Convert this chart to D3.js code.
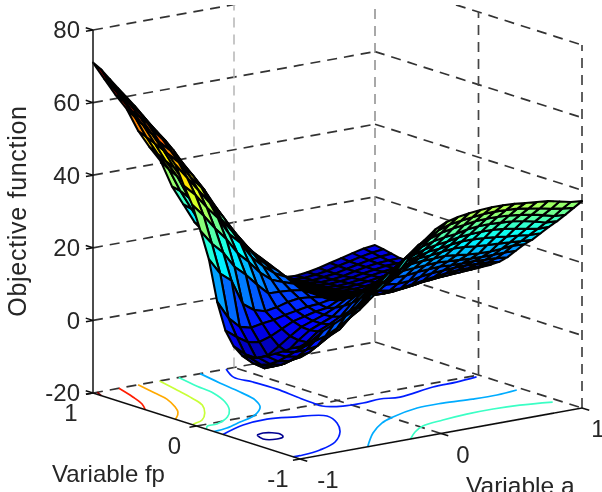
<!DOCTYPE html>
<html>
<head>
<meta charset="utf-8">
<script src="https://cdn.jsdelivr.net/npm/d3@7"></script>
<style>
  html, body { margin: 0; padding: 0; background: #fff; }
  svg { display: block; }
  text { font-family: "Liberation Sans", Arial, sans-serif; fill: #262626; }
</style>
</head>
<body>
<svg id="chart" width="602" height="492"></svg>
<script>
// grid of the surface
const aValues = [-1, -0.92, -0.84, -0.76, -0.68, -0.6, -0.52, -0.44, -0.36, -0.28, -0.2, -0.12, -0.04, 0.04, 0.12, 0.2, 0.28, 0.36, 0.44, 0.52, 0.6, 0.68, 0.76, 0.84, 0.92, 1];
const fpValues = [-1, -0.92, -0.84, -0.76, -0.68, -0.6, -0.52, -0.44, -0.36, -0.28, -0.2, -0.12, -0.04, 0.04, 0.12, 0.2, 0.28, 0.36, 0.44, 0.52, 0.6, 0.68, 0.76, 0.84, 0.92, 1];

// objective function, one row per a value, running along fp
const zByA = [
  [11, 9.8, 8.2, 6.8, 5.4, 4.3, 3.5, 3.4, 5.2, 8.8, 16, 27, 34, 40.5, 45, 50, 52.5, 55, 58, 60.8, 62.8, 64.5, 66.2, 68, 69.8, 71],
  [12, 9.5, 7.5, 5.5, 3.5, 2, 1, 0.7, 2.5, 6.5, 11, 22.5, 30, 37, 42, 46, 49.5, 52, 54.5, 56.5, 58.5, 60.3, 61.5, 63, 64.5, 66],
  [14, 10.6, 7.5, 5, 3, 1.2, 0, -1.2, 0.8, 4.5, 8, 20, 27, 33, 38, 42, 45, 47.8, 50.8, 52.8, 54.5, 56, 57, 58, 60, 61],
  [15.5, 11.5, 8, 5.5, 3.5, 2, 0.2, -0.9, 1, 4, 7.2, 13, 22.5, 29.5, 34.5, 38, 41.5, 44, 46, 48, 49.7, 51, 52, 53.5, 55, 56.5],
  [17, 13, 10, 7.5, 5.5, 3.8, 2.6, 2.2, 3, 5, 7.8, 10.8, 19.8, 25, 29.5, 33, 36.5, 39.5, 41.5, 43.5, 45, 46, 47, 48, 49, 50],
  [18.5, 15, 11.5, 9.5, 7.5, 6, 5, 4.8, 5.2, 6.5, 8.2, 9.9, 16.5, 22, 26.5, 29, 32, 34.3, 36, 38, 39.2, 40.6, 41.5, 42.5, 43.8, 45],
  [20, 17, 14.5, 11.7, 9.6, 8.2, 7.4, 7, 7.2, 8, 9, 10.4, 13.5, 18.5, 22, 25, 27.3, 29.3, 31.5, 33, 34.2, 35.5, 36.5, 37.8, 39, 40.5],
  [22.5, 20.5, 17, 14, 11.5, 9.8, 8.8, 8.3, 8.3, 8.8, 9.6, 11.3, 13.4, 16, 19, 21.2, 23.2, 25, 26.5, 27.7, 28.6, 29.6, 30.5, 31.5, 32.5, 33],
  [25, 23, 20.7, 17.3, 14.6, 12.4, 10.4, 9.6, 9.4, 9.6, 10.2, 11.8, 13.2, 14.8, 16.5, 18.2, 19.6, 20.8, 22, 23, 24, 25, 26, 26.5, 27, 27.5],
  [27.5, 25, 22.5, 20.4, 17.8, 15.5, 13.5, 12, 10.8, 10, 10.4, 11.5, 12.7, 13.8, 15, 16, 17, 18, 18.6, 19.1, 19.5, 19.8, 20, 20.5, 21.3, 22],
  [31, 28.6, 25.5, 23.2, 20.5, 18.2, 16, 14, 12.7, 11.5, 11, 11, 11.2, 11.7, 12.4, 13, 13.7, 14.2, 14.7, 15, 15.3, 15.6, 16, 16.6, 17.5, 18.2],
  [34, 31, 28.3, 25.5, 22.5, 20.2, 17.8, 15.5, 13.6, 12, 10.8, 10.1, 9.6, 9.4, 9.5, 9.5, 9.7, 9.9, 10, 10, 10, 10, 10, 10, 10.2, 11],
  [36.5, 33, 30.8, 27.5, 24.5, 22, 19.5, 17, 15, 13, 11, 9.9, 9.2, 8.9, 8.5, 8.3, 8.2, 8.1, 8, 8, 8, 8.1, 8.2, 8.4, 9, 10],
  [38, 35, 32, 29, 26, 23.4, 20.6, 18, 15.7, 13.5, 11.4, 9.6, 8.7, 8, 7.6, 7.3, 7, 6.9, 6.8, 6.8, 6.8, 6.9, 7, 7.3, 7.9, 8.6],
  [38.8, 36, 33, 29.9, 27, 24.2, 21.7, 19.2, 16.6, 14.2, 12, 9.7, 8.3, 7.4, 6.9, 6.5, 6.2, 6, 5.9, 5.8, 5.8, 5.9, 6, 6.2, 6.7, 7.2],
  [39.3, 36.5, 33.6, 30.5, 27.6, 25, 22.6, 20.2, 17.6, 15, 12.4, 10, 8.4, 7.2, 6.5, 5.9, 5.5, 5.2, 5, 4.9, 4.9, 4.9, 5, 5.2, 5.5, 5.8],
  [39.6, 36.9, 34, 30.8, 28, 25.3, 22.8, 20.5, 17.8, 15, 12, 9.4, 7.8, 6.7, 5.9, 5.3, 4.8, 4.5, 4.3, 4.1, 4, 4, 4, 4.1, 4.2, 4.4],
  [39.8, 37.2, 34.5, 31.5, 28.6, 25.8, 23.2, 20.6, 18, 15.4, 12.2, 9.5, 7.8, 6.6, 5.7, 5, 4.4, 4, 3.7, 3.4, 3.2, 3, 2.9, 2.7, 2.5, 2.4],
  [39.8, 37.3, 34.6, 31.8, 28.9, 26.2, 23.5, 20.8, 18.2, 15.6, 12.8, 10, 8.2, 6.9, 5.9, 5.1, 4.5, 4, 3.6, 3.3, 3, 2.8, 2.6, 2.4, 2.3, 2.2],
  [39.6, 37.2, 34.6, 31.9, 29, 26.2, 23.4, 20.4, 18, 15.8, 13.2, 10.5, 8.6, 7.2, 6.2, 5.4, 4.8, 4.2, 3.8, 3.5, 3.2, 3, 2.8, 2.7, 2.6, 2.6],
  [39.3, 37, 34.4, 31.7, 29, 26, 23, 20, 17.8, 15.6, 13.4, 11, 9.2, 7.7, 6.6, 5.8, 5.1, 4.6, 4.2, 3.9, 3.6, 3.4, 3.2, 3.1, 3.1, 3.2],
  [39, 36.5, 34, 31.5, 28.7, 25.7, 22.8, 19.8, 17.6, 15.6, 13.6, 11.4, 9.4, 8, 7, 6.2, 5.6, 5.1, 4.7, 4.4, 4.2, 4, 3.9, 3.8, 3.9, 4],
  [38.7, 36, 33.5, 31, 28.2, 25.3, 22.6, 19.7, 17.5, 15.6, 13.7, 11.6, 9.6, 8.3, 7.4, 6.7, 6.1, 5.6, 5.2, 4.9, 4.7, 4.5, 4.5, 4.5, 4.6, 4.8],
  [38, 35.3, 32.8, 30.3, 27.6, 25, 22.4, 19.9, 17.5, 15.4, 13.6, 11.7, 9.8, 8.6, 7.8, 7.1, 6.5, 6, 5.6, 5.3, 5.1, 5, 5, 5.1, 5.3, 5.6],
  [37.3, 34.8, 32, 29.5, 27, 24.6, 22.2, 20.2, 17.6, 15.3, 13.4, 11.7, 10, 8.9, 8, 7.3, 6.6, 6.1, 5.7, 5.4, 5.2, 5.1, 5.2, 5.5, 5.9, 6.3],
  [37, 34.4, 31.8, 29.3, 27, 24.5, 22, 20, 17.5, 15, 13, 11.5, 10.2, 9.2, 8.2, 7.4, 6.6, 6, 5.6, 5.3, 5.2, 5.2, 5.3, 5.8, 6.3, 6.7]
];

// contour lines on the floor, [a, fp] pairs
const contourLevels = [70, 60, 50, 40, 30, 20, 10, 10, 0, 20, 30];
const contourLines = [
  [[-0.97, 1], [-1, 0.92]],
  [[-0.816, 1], [-0.876, 0.784], [-0.934, 0.616], [-1, 0.496]],
  [[-0.68, 1], [-0.72, 0.784], [-0.752, 0.624], [-0.828, 0.44], [-0.885, 0.336], [-0.979, 0.224], [-1, 0.208]],
  [[-0.528, 1], [-0.578, 0.76], [-0.623, 0.56], [-0.677, 0.384], [-0.777, 0.224], [-0.89, 0.096], [-0.983, 0.048], [-1, 0.032]],
  [[-0.392, 1], [-0.432, 0.768], [-0.456, 0.58], [-0.53, 0.364], [-0.626, 0.192], [-0.734, 0.064], [-0.879, -0.032], [-0.953, -0.04], [-1, -0.096]],
  [[-0.24, 1], [-0.283, 0.752], [-0.321, 0.504], [-0.366, 0.296], [-0.443, 0.144], [-0.579, 0.008], [-0.746, -0.075], [-0.89, -0.144], [-1, -0.168]],
  [[-0.056, 1], [-0.139, 0.816], [-0.12, 0.653], [-0.112, 0.432], [-0.134, 0.208], [-0.146, 0.037], [-0.148, -0.052], [-0.054, -0.126], [0.08, -0.138], [0.214, -0.12], [0.332, -0.152], [0.624, -0.072], [0.8, -0.06], [0.964, -0.03]],
  [[-1, -0.256], [-0.775, -0.144], [-0.582, -0.112], [-0.436, -0.164], [-0.268, -0.264], [-0.322, -0.434], [-0.436, -0.618], [-0.6, -0.794], [-0.782, -0.896], [-0.93, -0.933], [-1, -0.932]],
  [[-0.854, -0.386], [-0.798, -0.368], [-0.736, -0.448], [-0.765, -0.515], [-0.82, -0.533], [-0.883, -0.484], [-0.854, -0.386]],
  [[-0.52, -1], [-0.301, -0.753], [-0.12, -0.592], [0.016, -0.514], [0.253, -0.424], [0.44, -0.418], [0.632, -0.445], [0.8, -0.451], [0.96, -0.424]],
  [[-0.216, -1], [-0.096, -0.88], [0.024, -0.792], [0.2, -0.746], [0.392, -0.714], [0.584, -0.708], [0.76, -0.726], [0.952, -0.782]]
];

const aTicks = [-1, 0, 1];
const fpTicks = [-1, 0, 1];
const zTicks = [-20, 0, 20, 40, 60, 80];

const svg = d3.select("#chart");

// the 3d box seen from the a=-1, fp=-1 corner: each axis moves the point on screen
const origin = { x: 300, y: 459 };
const xFromA = d3.scaleLinear().domain([-1, 1]).range([0, 282]);
const yFromA = d3.scaleLinear().domain([-1, 1]).range([0, -51]);
const xFromFp = d3.scaleLinear().domain([-1, 1]).range([0, -207]);
const yFromFp = d3.scaleLinear().domain([-1, 1]).range([0, -66]);
const yFromZ = d3.scaleLinear().domain([-20, 80]).range([0, -363]);

const project = (a, fp, z) => [
  origin.x + xFromA(a) + xFromFp(fp),
  origin.y + yFromA(a) + yFromFp(fp) + yFromZ(z)
];

// jet colormap over the range of the surface
const zMin = d3.min(zByA, (r) => d3.min(r));
const zMax = d3.max(zByA, (r) => d3.max(r));
const jet = d3
  .scaleLinear()
  .domain([0, 0.125, 0.375, 0.625, 0.875, 1].map((t) => zMin + t * (zMax - zMin)))
  .range(["#00007f", "#0000ff", "#00ffff", "#ffff00", "#ff0000", "#7f0000"])
  .clamp(true);

const defs = svg.append("defs");
defs
  .append("clipPath")
  .attr("id", "top-clip")
  .append("rect")
  .attr("x", 0)
  .attr("y", 5)
  .attr("width", 602)
  .attr("height", 487);
defs
  .append("filter")
  .attr("id", "soft")
  .append("feGaussianBlur")
  .attr("stdDeviation", 0.55);

const root = svg.append("g").attr("filter", "url(#soft)");
const line = d3.line();

// dashed grid on floor and back walls
const grid = root
  .append("g")
  .attr("clip-path", "url(#top-clip)")
  .attr("fill", "none")
  .attr("stroke-dasharray", "10 7");

const gridLine = (pts, color, width) =>
  grid
    .append("path")
    .attr("d", line(pts))
    .attr("stroke", color)
    .attr("stroke-width", width);

zTicks.forEach((z) => {
  gridLine([project(-1, 1, z), project(1, 1, z)], "#333", 1.7);
  gridLine([project(1, 1, z), project(1, -1, z)], "#333", 1.7);
});
gridLine([project(0, -1, -20), project(0, 1, -20)], "#333", 1.7);
gridLine([project(-1, 0, -20), project(1, 0, -20)], "#333", 1.7);
gridLine([project(0, 1, -20), project(0, 1, 80)], "#b5b5b5", 1.5);
gridLine([project(1, 1, -20), project(1, 1, 80)], "#8c8c8c", 1.5);
gridLine([project(1, 0, -20), project(1, 0, 80)], "#444", 1.7);
gridLine([project(1, -1, -20), project(1, -1, 80)], "#444", 1.7);

// contours
const contourLine = d3.line().curve(d3.curveCatmullRom.alpha(0.5));
root
  .append("g")
  .selectAll("path")
  .data(contourLines)
  .join("path")
  .attr("d", (d) => contourLine(d.map((p) => project(p[0], p[1], -20))))
  .attr("fill", "none")
  .attr("stroke", (d, i) => jet(contourLevels[i]))
  .attr("stroke-width", 1.7);

// surface, far cells first so the near ones cover them
const cells = [];
for (let i = aValues.length - 2; i >= 0; i--) {
  for (let j = fpValues.length - 2; j >= 0; j--) {
    cells.push({
      pts: [
        project(aValues[i], fpValues[j], zByA[i][j]),
        project(aValues[i + 1], fpValues[j], zByA[i + 1][j]),
        project(aValues[i + 1], fpValues[j + 1], zByA[i + 1][j + 1]),
        project(aValues[i], fpValues[j + 1], zByA[i][j + 1])
      ],
      z: d3.mean([zByA[i][j], zByA[i + 1][j], zByA[i + 1][j + 1], zByA[i][j + 1]])
    });
  }
}
root
  .append("g")
  .selectAll("path")
  .data(cells)
  .join("path")
  .attr("d", (d) => line(d.pts) + "Z")
  .attr("fill", (d) => jet(d.z))
  .attr("stroke", "#000")
  .attr("stroke-width", 2.1)
  .attr("stroke-linejoin", "round");

// solid axes
const axes = root.append("g").attr("fill", "none").attr("stroke", "#111").attr("stroke-width", 1.5);
axes.append("path").attr("d", line([project(-1, 1, -20), project(-1, 1, 80)]));
axes.append("path").attr("d", line([project(-1, 1, -20), project(-1, -1, -20), project(1, -1, -20)]));

// ticks point along the floor directions
zTicks.forEach((z) => {
  axes.append("path").attr("d", line([project(-1.05, 1, z), project(-1, 1, z), project(-1, 1.07, z)]));
});
aTicks.forEach((a) => {
  axes.append("path").attr("d", line([project(a, -1, -20), project(a, -1.07, -20)]));
});
fpTicks.forEach((fp) => {
  axes.append("path").attr("d", line([project(-1, fp, -20), project(-1.05, fp, -20)]));
});

// tick labels
const tickSize = 24;
const labels = root.append("g").attr("font-size", tickSize);

zTicks.forEach((z) => {
  const p = project(-1, 1, z);
  labels
    .append("text")
    .attr("x", p[0] - 13)
    .attr("y", p[1])
    .attr("dy", "0.35em")
    .attr("text-anchor", "end")
    .text(z);
});
const aLabelDx = d3.scaleLinear().domain([-1, 1]).range([28, 16]);
aTicks.forEach((a) => {
  const p = project(a, -1, -20);
  labels
    .append("text")
    .attr("x", p[0] + aLabelDx(a))
    .attr("y", p[1] + 21)
    .attr("dy", "0.35em")
    .attr("text-anchor", "middle")
    .text(a);
});
fpTicks.forEach((fp) => {
  const p = project(-1, fp, -20);
  labels
    .append("text")
    .attr("x", p[0] - 22)
    .attr("y", p[1] + 20)
    .attr("dy", "0.35em")
    .attr("text-anchor", "middle")
    .text(fp);
});

// axis titles
labels.append("text").attr("x", 52).attr("y", 482).text("Variable fp");
labels.append("text").attr("x", 466).attr("y", 494).attr("font-size", 24.5).text("Variable a");
labels
  .append("text")
  .attr("transform", "translate(26,211) rotate(-90)")
  .attr("text-anchor", "middle")
  .attr("font-size", 25)
  .attr("letter-spacing", 0.7)
  .text("Objective function");
</script>
</body>
</html>
